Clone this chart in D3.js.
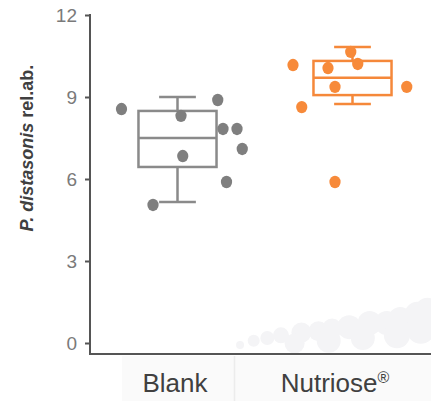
<!DOCTYPE html>
<meta charset="utf-8">
<style>
body { margin: 0; background: #fff; }
.tick text { font: 300 19px "Liberation Sans Narrow", "Arial Narrow", sans-serif; fill: #7a7a7a; }
.tick line, .axis-line { stroke: #555; stroke-width: 2px; }
.cat { font: 26px "Liberation Sans", Arial, sans-serif; fill: #404040; }
.ylab { font: bold 18px "Liberation Sans", Arial, sans-serif; fill: #404040; }
</style>
<body>
<script src="https://d3js.org/d3.v7.min.js"></script>
<script>

var width = 431, height = 401;

// groups
var categories = ["Blank", "Nutriose"];
var labels = ["Blank", "Nutriose"];

// box stats: [whiskerLow, q1, median, q3, whiskerHigh]
var blankBox = [5.16, 6.44, 7.50, 8.49, 9.00];
var nutrioseBox = [8.74, 9.07, 9.70, 10.32, 10.83];

// individual samples
var blankValues = [8.56, 8.89, 8.31, 7.83, 7.83, 7.10, 6.84, 5.89, 5.05];
var blankJitter = [-0.32, 0.23, 0.02, 0.26, 0.34, 0.37, 0.03, 0.28, -0.14];
var nutrioseValues = [10.17, 10.65, 10.21, 10.06, 9.37, 9.37, 8.63, 5.89];
var nutrioseJitter = [-0.34, -0.01, 0.03, -0.14, -0.10, 0.31, -0.29, -0.10];

var yTicks = [0, 3, 6, 9, 12];

// faint background bubbles (decoration at the bottom right)
var bubbleX = [0.44, 0.48, 0.52, 0.56, 0.62, 0.67, 0.71, 0.76, 0.82, 0.87, 0.91, 0.96, 0.99, 0.60, 0.70, 0.80, 0.90, 0.97];
var bubbleY = [0.15, 0.3, 0.4, 0.5, 0.6, 0.65, 0.75, 0.8, 0.95, 0.95, 1.1, 1.25, 1.4, 0.2, 0.3, 0.4, 0.5, 0.7];
var bubbleR = [4, 6, 7, 8, 10, 10, 10, 12, 12, 12, 12, 13, 13, 10, 12, 12, 13, 14];

var colors = { Blank: "#7f7f7f", Nutriose: "#f78a3a" };
var boxColors = { Blank: "#8a8a8a", Nutriose: "#f5883a" };

var axisX = 90, axisBottom = 354;

var y = d3.scaleLinear().domain([0, 12]).range([343, 15]);
var x = d3.scaleBand().domain(categories).range([90, 440]);
var xLab = d3.scaleBand().domain(categories).range([95, 415]);
var xFrac = d3.scaleLinear().domain([0, 1]).range([axisX, width]);

var svg = d3.select("body").append("svg")
    .attr("width", width)
    .attr("height", height);

// label cells below the axis
svg.append("rect").attr("x", 122).attr("y", axisBottom + 2).attr("width", 111).attr("height", height - axisBottom)
    .attr("fill", "#fafafa");
svg.append("rect").attr("x", 236).attr("y", axisBottom + 2).attr("width", width - 236).attr("height", height - axisBottom)
    .attr("fill", "#fafafa");
svg.append("line").attr("x1", 234.5).attr("x2", 234.5).attr("y1", axisBottom + 2).attr("y2", height)
    .attr("stroke", "#ececec").attr("stroke-width", 2);

svg.append("clipPath").attr("id", "plot")
  .append("rect").attr("x", axisX).attr("y", 0).attr("width", width - axisX).attr("height", axisBottom);

svg.append("g").attr("clip-path", "url(#plot)")
  .selectAll("circle")
  .data(bubbleX)
  .enter().append("circle")
    .attr("cx", function(d) { return xFrac(d); })
    .attr("cy", function(d, i) { return y(bubbleY[i]) + 6; })
    .attr("r", function(d, i) { return bubbleR[i]; })
    .attr("fill", "#f4f4f6");

// y axis
var yAxis = svg.append("g")
    .attr("transform", "translate(" + axisX + ",0)")
    .call(d3.axisLeft(y).tickValues(yTicks).tickSize(5).tickPadding(8));
yAxis.select(".domain").remove();

svg.append("line").attr("class", "axis-line")
    .attr("x1", axisX).attr("x2", axisX)
    .attr("y1", y(12) - 1).attr("y2", axisBottom);
svg.append("line").attr("class", "axis-line")
    .attr("x1", axisX - 1).attr("x2", width)
    .attr("y1", axisBottom).attr("y2", axisBottom);

svg.append("text")
    .attr("class", "ylab")
    .attr("transform", "translate(33,148) rotate(-90)")
    .attr("text-anchor", "middle")
  .call(function(t) {
    t.append("tspan").attr("font-style", "italic").text("P. distasonis");
    t.append("tspan").text(" rel.ab.");
  });

// category labels
svg.selectAll(".cat")
  .data(categories)
  .enter().append("text")
    .attr("class", "cat")
    .attr("x", function(d) { return xLab(d) + xLab.bandwidth() / 2; })
    .attr("y", 392)
    .attr("text-anchor", "middle")
    .each(function(d, i) {
      var t = d3.select(this);
      t.append("tspan").text(labels[i]);
      if (d === "Nutriose") t.append("tspan").attr("font-size", "16px").attr("dy", "-9").text("®");
    });

// boxes
var boxes = [
  { cat: "Blank", s: blankBox },
  { cat: "Nutriose", s: nutrioseBox }
];

var boxW = x.bandwidth() * 0.446, capW = x.bandwidth() * 0.21;

var bg = svg.selectAll(".box")
  .data(boxes)
  .enter().append("g")
    .attr("class", "box")
    .attr("fill", "none")
    .attr("stroke-width", 2.5)
    .attr("stroke", function(d) { return boxColors[d.cat]; })
    .attr("transform", function(d) { return "translate(" + (x(d.cat) + x.bandwidth() / 2) + ",0)"; });

bg.append("line").attr("x1", 0).attr("x2", 0)
    .attr("y1", function(d) { return y(d.s[0]); }).attr("y2", function(d) { return y(d.s[1]); });
bg.append("line").attr("x1", 0).attr("x2", 0)
    .attr("y1", function(d) { return y(d.s[3]); }).attr("y2", function(d) { return y(d.s[4]); });
bg.append("line").attr("x1", -capW / 2).attr("x2", capW / 2)
    .attr("y1", function(d) { return y(d.s[0]); }).attr("y2", function(d) { return y(d.s[0]); });
bg.append("line").attr("x1", -capW / 2).attr("x2", capW / 2)
    .attr("y1", function(d) { return y(d.s[4]); }).attr("y2", function(d) { return y(d.s[4]); });
bg.append("rect").attr("x", -boxW / 2).attr("width", boxW)
    .attr("y", function(d) { return y(d.s[3]); })
    .attr("height", function(d) { return y(d.s[1]) - y(d.s[3]); });
bg.append("line").attr("x1", -boxW / 2).attr("x2", boxW / 2)
    .attr("y1", function(d) { return y(d.s[2]); }).attr("y2", function(d) { return y(d.s[2]); });

// points
var points = [];
blankValues.forEach(function(v, i) { points.push({ cat: "Blank", v: v, j: blankJitter[i] }); });
nutrioseValues.forEach(function(v, i) { points.push({ cat: "Nutriose", v: v, j: nutrioseJitter[i] }); });

svg.append("g").selectAll("ellipse")
  .data(points)
  .enter().append("ellipse")
    .attr("cx", function(d) { return x(d.cat) + x.bandwidth() * (0.5 + d.j); })
    .attr("cy", function(d) { return y(d.v); })
    .attr("rx", 5.6)
    .attr("ry", 6.2)
    .attr("fill", function(d) { return colors[d.cat]; });

</script>
